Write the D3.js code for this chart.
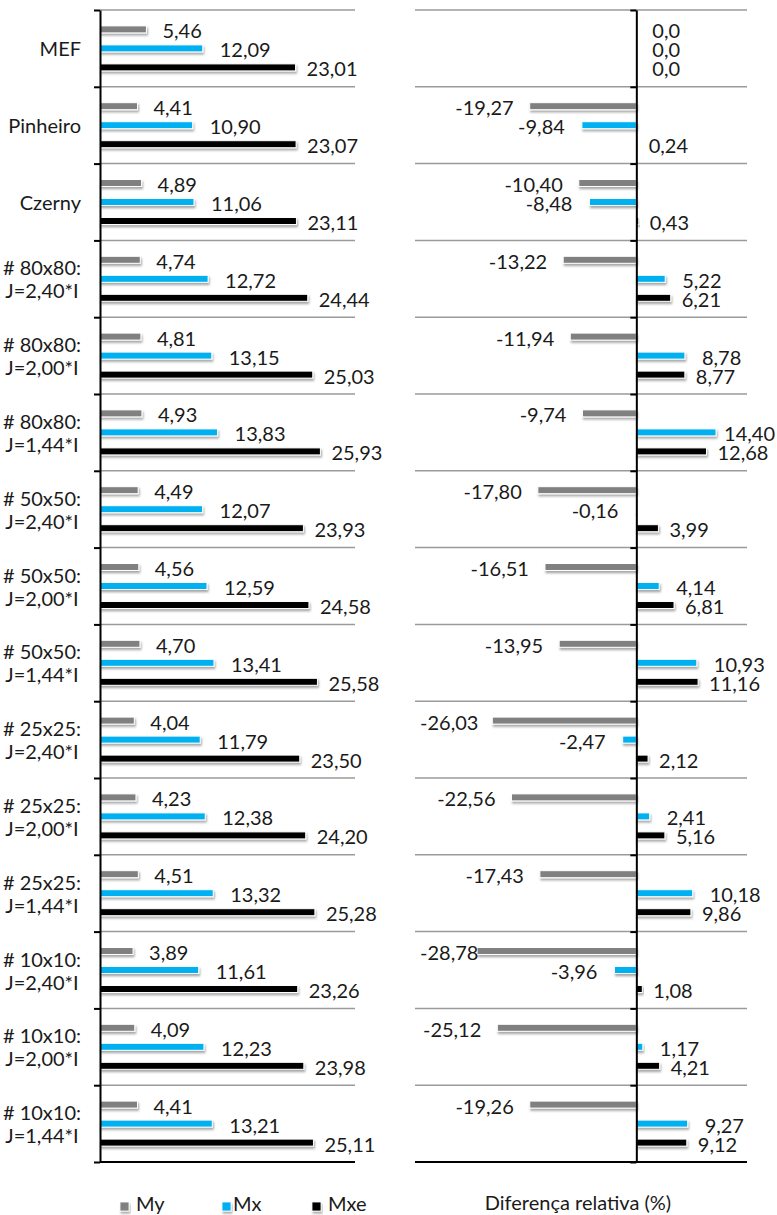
<!DOCTYPE html>
<html>
<head>
<meta charset="utf-8">
<script src="https://cdn.jsdelivr.net/npm/d3@7/dist/d3.min.js"></script>
<style>
  html, body { margin: 0; padding: 0; background: #ffffff; }
  svg { display: block; }
  text { font-family: Lato, "Open Sans", "Noto Sans", sans-serif; fill: #1a1a1a; }
</style>
</head>
<body>
<svg id="chart" width="777" height="1215"></svg>
<script>
// Row labels (each entry is a list of text lines)
const categories = [
  ["MEF"], ["Pinheiro"], ["Czerny"],
  ["# 80x80:", "J=2,40*I"], ["# 80x80:", "J=2,00*I"], ["# 80x80:", "J=1,44*I"],
  ["# 50x50:", "J=2,40*I"], ["# 50x50:", "J=2,00*I"], ["# 50x50:", "J=1,44*I"],
  ["# 25x25:", "J=2,40*I"], ["# 25x25:", "J=2,00*I"], ["# 25x25:", "J=1,44*I"],
  ["# 10x10:", "J=2,40*I"], ["# 10x10:", "J=2,00*I"], ["# 10x10:", "J=1,44*I"]
];
const seriesNames = ["My", "Mx", "Mxe"];
const seriesColors = ["#808080", "#00B0F0", "#000000"];

// Moment values
const My  = [5.46, 4.41, 4.89, 4.74, 4.81, 4.93, 4.49, 4.56, 4.70, 4.04, 4.23, 4.51, 3.89, 4.09, 4.41];
const Mx  = [12.09, 10.90, 11.06, 12.72, 13.15, 13.83, 12.07, 12.59, 13.41, 11.79, 12.38, 13.32, 11.61, 12.23, 13.21];
const Mxe = [23.01, 23.07, 23.11, 24.44, 25.03, 25.93, 23.93, 24.58, 25.58, 23.50, 24.20, 25.28, 23.26, 23.98, 25.11];

// Relative difference to MEF (%)
const dMy  = [0, -19.27, -10.40, -13.22, -11.94, -9.74, -17.80, -16.51, -13.95, -26.03, -22.56, -17.43, -28.78, -25.12, -19.26];
const dMx  = [0, -9.84, -8.48, 5.22, 8.78, 14.40, -0.16, 4.14, 10.93, -2.47, 2.41, 10.18, -3.96, 1.17, 9.27];
const dMxe = [0, 0.24, 0.43, 6.21, 8.77, 12.68, 3.99, 6.81, 11.16, 2.12, 5.16, 9.86, 1.08, 4.21, 9.12];

const leftDomain = [0, 30];
const rightDomain = [-40, 20];
const rightTitle = "Diferença relativa (%)";

const svg = d3.select("#chart");
const FONT = 20;

const defs = svg.append("defs");
const f = defs.append("filter").attr("id", "shadow")
  .attr("x", "-10%").attr("y", "-60%").attr("width", "130%").attr("height", "260%");
f.append("feDropShadow").attr("dx", 1).attr("dy", 2.2).attr("stdDeviation", 1.3)
  .attr("flood-color", "#000").attr("flood-opacity", 0.35);

const plotTop = 10, plotBottom = 1162;
const rowIdx = d3.range(categories.length);
const y = d3.scaleBand().domain(rowIdx).range([plotTop, plotBottom]).paddingInner(0).paddingOuter(0);
const sub = d3.scalePoint().domain(seriesNames).range([0, y.bandwidth()]).padding(1.02);
const barH = 7;

const fmt = v => v === 0 ? "0,0" : v.toFixed(2).replace(".", ",");
const gaps = { My: 16, Mx: 17, Mxe: 11 };

// x-limits that data labels are kept within
function panel(x, series, labelMin, labelMax) {
  const g = svg.append("g");
  const [x0, x1] = x.range();
  // horizontal gridlines at row boundaries
  const bounds = rowIdx.map(i => y(i));
  g.selectAll("line.grid").data(bounds).join("line")
    .attr("x1", x0).attr("x2", x1).attr("y1", d => d).attr("y2", d => d)
    .attr("stroke", "#9a9a9a").attr("stroke-width", 1.5);
  // bottom axis line
  g.append("line").attr("x1", x0).attr("x2", x1).attr("y1", plotBottom).attr("y2", plotBottom)
    .attr("stroke", "#000").attr("stroke-width", 2);

  // bars
  series.forEach((vals, s) => {
    const name = seriesNames[s];
    const rows = rowIdx.map(i => ({ i, v: vals[i] }));
    g.append("g").selectAll("rect").data(rows.filter(d => d.v !== 0)).join("rect")
      .attr("x", d => Math.min(x(0), x(d.v)))
      .attr("width", d => Math.abs(x(d.v) - x(0)))
      .attr("y", d => y(d.i) + sub(name) - barH / 2)
      .attr("height", barH)
      .attr("fill", seriesColors[s])
      .attr("stroke", "#ffffff").attr("stroke-width", 1)
      .attr("filter", "url(#shadow)");
  });

  // vertical axis at zero, with ticks at row boundaries
  const axis = d3.axisLeft(d3.scaleLinear().domain([plotTop, plotBottom]).range([plotTop, plotBottom]))
    .tickValues(bounds.concat([plotBottom])).tickSize(6).tickSizeOuter(0).tickFormat("");
  const ag = g.append("g").attr("transform", `translate(${x(0)},0)`).call(axis);
  ag.select(".domain").attr("stroke", "#000").attr("stroke-width", 2);
  ag.selectAll(".tick line").attr("stroke", "#000").attr("stroke-width", 2);

  // value labels
  series.forEach((vals, s) => {
    const name = seriesNames[s];
    const rows = rowIdx.map(i => ({ i, v: vals[i] }));
    g.append("g").selectAll("text").data(rows).join("text")
      .attr("y", d => y(d.i) + sub(name) + 1)
      .attr("text-anchor", "start")
      .attr("dominant-baseline", "central")
      .attr("font-size", FONT)
      .text(d => fmt(d.v))
      .each(function (d) {
        const w = this.getComputedTextLength();
        let left;
        if (d.v < 0) left = Math.max(labelMin, x(d.v) - gaps[name] - w);
        else left = Math.min(labelMax - w, x(d.v) + (d.v === 0 ? 16 : gaps[name]));
        d3.select(this).attr("x", left);
      });
  });
  return g;
}

const xL = d3.scaleLinear().domain(leftDomain).range([100, 355]);
const xR = d3.scaleLinear().domain(rightDomain).range([415, 747]);
panel(xL, [My, Mx, Mxe], 100, 395);
panel(xR, [dMy, dMx, dMxe], 420, 775);

// category labels: block right-aligned, lines centred within block
const catG = svg.append("g");
rowIdx.forEach(i => {
  const lines = categories[i];
  const cy = y(i) + y.bandwidth() / 2;
  const lh = 23;
  const tg = catG.append("g");
  const texts = lines.map((t, k) => tg.append("text")
    .attr("y", cy + (k - (lines.length - 1) / 2) * lh)
    .attr("dominant-baseline", "central")
    .attr("font-size", FONT)
    .attr("text-anchor", "middle")
    .text(t));
  const widths = texts.map(t => t.node().getComputedTextLength());
  const w = d3.max(widths);
  const right = 81;
  texts.forEach(t => t.attr("x", right - w / 2));
});

// legend
const lg = svg.append("g");
const legX = [120, 222, 312];
const legTextX = [136, 233, 328];
seriesNames.forEach((n, s) => {
  lg.append("rect").attr("x", legX[s]).attr("y", 1202).attr("width", 9).attr("height", 9)
    .attr("fill", seriesColors[s]).attr("stroke", "#fff").attr("stroke-width", 0.8)
    .attr("filter", "url(#shadow)");
  lg.append("text").attr("x", legTextX[s]).attr("y", 1210.5)
    .attr("font-size", FONT).text(n);
});

// right panel title
svg.append("text").attr("x", (xR.range()[0] + xR.range()[1]) / 2 - 3).attr("y", 1210)
  .attr("text-anchor", "middle")
  .attr("font-size", FONT).text(rightTitle);
</script>
</body>
</html>
